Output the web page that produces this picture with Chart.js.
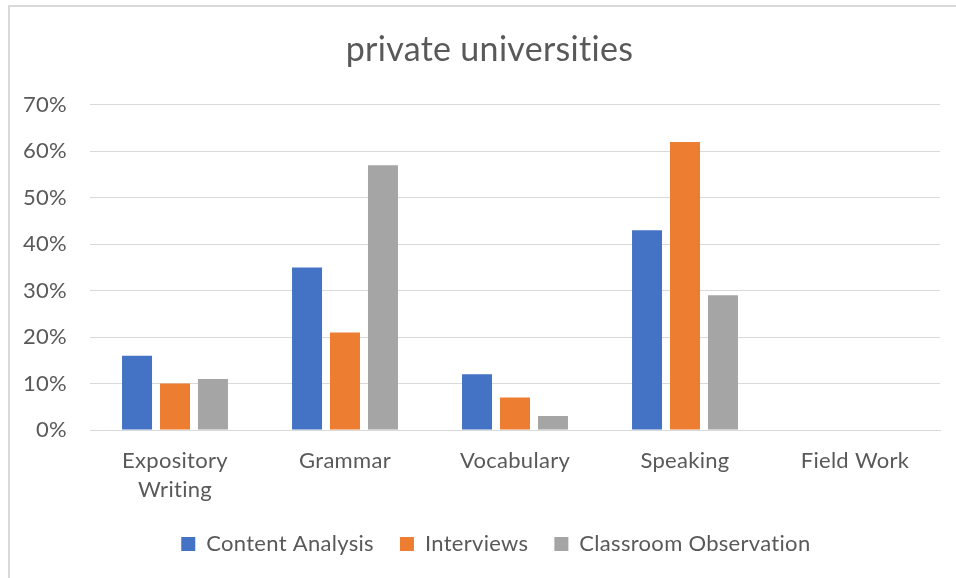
<!DOCTYPE html>
<html>
<head>
<meta charset="utf-8">
<script src="https://cdn.jsdelivr.net/npm/chart.js@4/dist/chart.umd.min.js"></script>
<style>
  html, body { margin: 0; padding: 0; background: #fff; overflow: hidden; }
  #wrap { position: relative; width: 956px; height: 578px; }
  #frame { position: absolute; left: 8px; top: 5px; width: 980px; height: 600px; border: 2px solid #d9d9d9; box-sizing: border-box; }
  canvas { position: absolute; left: 0; top: 0; }
</style>
</head>
<body>
<div id="wrap">
  <div id="frame"></div>
  <canvas id="chart" width="956" height="578"></canvas>
</div>
<script>
Chart.defaults.animation = false;

// data (percent)
const categories = [['Expository', 'Writing'], 'Grammar', 'Vocabulary', 'Speaking', 'Field Work'];
const contentAnalysis = [16, 35, 12, 43, 0];
const interviews = [10, 21, 7, 62, 0];
const classroomObservation = [11, 57, 3, 29, 0];
const yTicks = [0, 10, 20, 30, 40, 50, 60, 70];

const FONT = 'Lato, "Open Sans", sans-serif';
const TEXT = '#595959';
const GRID = '#d9d9d9';

// the original frame is wider than the crop, so title and legend sit a bit right of centre
const shiftBlocks = {
  id: 'shiftBlocks',
  afterLayout: chart => {
    chart.titleBlock.left += 29;
    chart.legend.left += 14;
    chart.legend.right += 14;
  },
  // tiny letter spacing keeps Lato from joining "ti" into a ligature
  beforeDraw: chart => {
    if ('letterSpacing' in chart.ctx) chart.ctx.letterSpacing = '0.3px';
  }
};

new Chart(document.getElementById('chart'), {
  type: 'bar',
  data: {
    labels: categories,
    datasets: [
      { label: 'Content Analysis', data: contentAnalysis, backgroundColor: '#4472c4' },
      { label: 'Interviews', data: interviews, backgroundColor: '#ed7d31' },
      { label: 'Classroom Observation', data: classroomObservation, backgroundColor: '#a5a5a5' }
    ]
  },
  plugins: [shiftBlocks],
  options: {
    responsive: false,
    animation: false,
    events: [],
    categoryPercentage: 0.67,
    barPercentage: 0.79,
    layout: { padding: { left: 10, right: 16, top: 15, bottom: 13 } },
    plugins: {
      title: {
        display: true,
        text: 'private universities',
        color: TEXT,
        font: { family: FONT, size: 34, weight: 'normal' },
        padding: { top: 15, bottom: 34 }
      },
      legend: {
        position: 'bottom',
        labels: {
          color: TEXT,
          font: { family: FONT, size: 22 },
          boxWidth: 14,
          boxHeight: 14,
          padding: 26
        }
      },
      tooltip: { enabled: false }
    },
    scales: {
      x: {
        grid: { display: false },
        border: { display: true, color: GRID, width: 1 },
        ticks: {
          color: TEXT,
          font: { family: FONT, size: 22, lineHeight: 1.32 },
          padding: 8,
          maxRotation: 0
        },
        afterFit: s => { s.height = 77; }
      },
      y: {
        min: 0,
        max: yTicks[yTicks.length - 1],
        afterBuildTicks: s => { s.ticks = yTicks.map(v => ({ value: v })); },
        grid: { color: GRID, drawTicks: false },
        border: { display: false },
        ticks: {
          color: TEXT,
          font: { family: FONT, size: 22 },
          padding: 23,
          callback: v => v + '%'
        },
        afterFit: s => { s.width = 80; }
      }
    }
  }
});
</script>
</body>
</html>
